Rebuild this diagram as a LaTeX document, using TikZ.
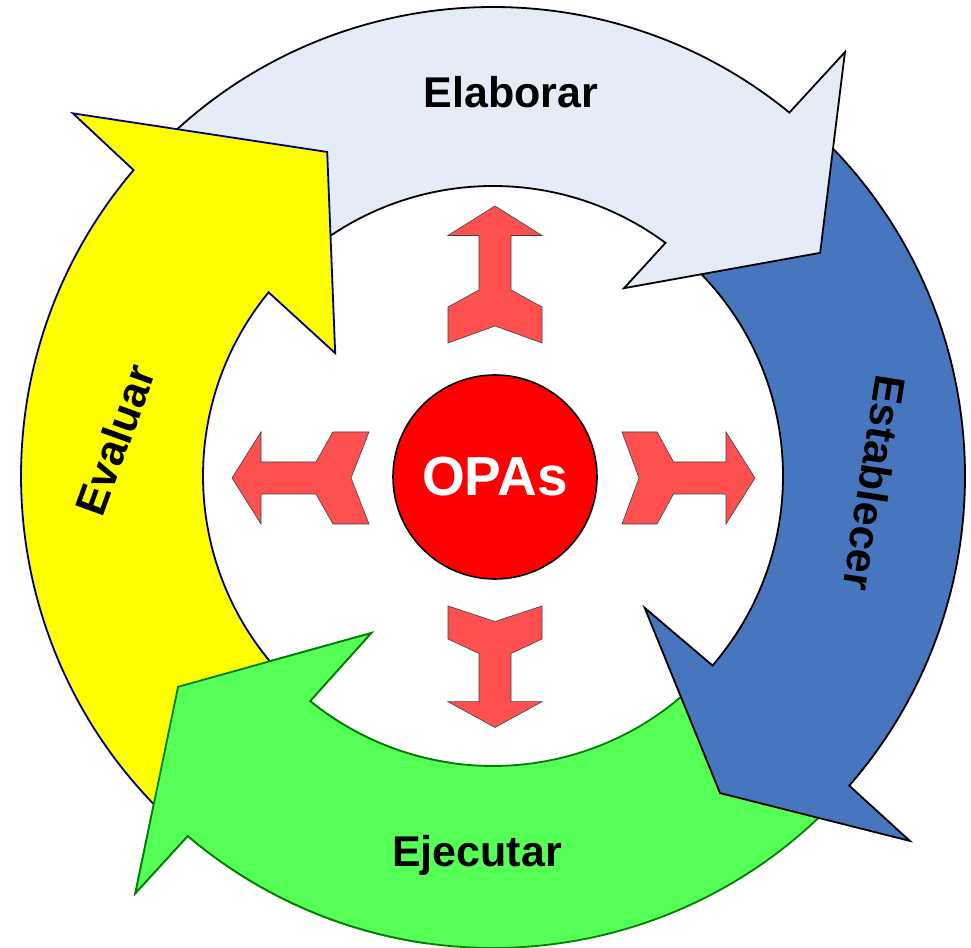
\documentclass[tikz,border=0pt]{standalone}
\usepackage{fontspec}
\setmainfont{Liberation Sans}
\definecolor{elabfill}{RGB}{230,236,247}
\definecolor{estabfill}{RGB}{71,118,191}
\definecolor{ejecfill}{RGB}{85,255,85}
\definecolor{evalfill}{RGB}{255,255,0}
\definecolor{evalline}{RGB}{0,0,128}
\definecolor{ejecline}{RGB}{0,128,0}
\definecolor{pushred}{RGB}{255,80,80}
\definecolor{pushline}{RGB}{64,64,64}
\begin{document}
\begin{tikzpicture}[x=1pt,y=1pt,
  ring/.style={line width=1.8pt, line join=miter},
  push/.style={fill=pushred, draw=pushline, line width=0.6pt, line join=miter},
  lbl/.style={font=\bfseries\fontsize{43}{43}\selectfont, text=black, inner sep=0pt}]
\useasboundingbox (0,0) rectangle (971,947);
\fill[white] (0,0) rectangle (971,947);
\begin{scope}[shift={(493,471)}]
  % Ejecutar (green)
  \draw[ring, fill=ejecfill, draw=ejecline] (316:472pt) arc[start angle=316, end angle=229.7, radius=472pt]
    -- (229.4:549.6pt) -- (213.8:379pt) -- (232.2:198.8pt) -- (230.9:290pt)
    arc[start angle=230.9, end angle=316, radius=290pt] -- cycle;
  % Establecer (blue)
  \draw[ring, fill=estabfill, draw=black] (47:472pt) arc[start angle=47, end angle=-41, radius=472pt]
    -- (-41.2:554pt) -- (-54.4:390pt) -- (-41:201pt) -- (-40.8:290pt)
    arc[start angle=-40.8, end angle=47, radius=290pt] -- cycle;
  % Elaborar (light blue)
  \draw[ring, fill=elabfill, draw=black] (137:469pt) arc[start angle=137, end angle=50.8, radius=469pt]
    -- (50.3:551pt) -- (34.3:396pt) -- (55.1:229pt) -- (53.5:290pt)
    arc[start angle=53.5, end angle=137, radius=290pt] -- cycle;
  % Evaluar (yellow)
  \draw[ring, fill=evalfill, draw=evalline] (227:472pt) arc[start angle=227, end angle=139.6, radius=472pt]
    -- (139.2:555pt) -- (117.1:364pt) -- (142.1:200pt) -- (140.7:290pt)
    arc[start angle=140.7, end angle=227, radius=290pt] -- cycle;
  % Ejecutar head again, on top of the Evaluar tail
  \fill[ejecfill] (262:472pt) arc[start angle=262, end angle=229.7, radius=472pt]
    -- (229.4:549.6pt) -- (213.8:379pt) -- (232.2:198.8pt) -- (230.9:290pt)
    arc[start angle=230.9, end angle=262, radius=290pt] -- cycle;
  \draw[ring, draw=ejecline] (262:472pt) arc[start angle=262, end angle=229.7, radius=472pt]
    -- (229.4:549.6pt) -- (213.8:379pt) -- (232.2:198.8pt) -- (230.9:290pt)
    arc[start angle=230.9, end angle=262, radius=290pt];
\end{scope}
% labels
\node[lbl, anchor=base] (elab) at (511,839) {Elaborar};
\node[lbl, anchor=base] (ejec) at (477,80) {Ejecutar};
\node[lbl, rotate=70] (eval) at (115,507) {Evaluar};
\node[lbl, rotate=-99] (estab) at (875,464) {Establecer};
% push arrows (image coordinates)
\begin{scope}[yshift=947pt, yscale=-1]
  \draw[push] (495,206) -- (542,235.5) -- (511,235.5) -- (511,290) -- (542,307) -- (542,343) -- (495,326)
    -- (448,343) -- (448,307) -- (479,290) -- (479,235.5) -- (448,235.5) -- cycle;
  \draw[push] (495,621.5) -- (542,606) -- (542,639) -- (511,653.5) -- (511,701.7) -- (542,701.7) -- (495,727.5)
    -- (448,701.7) -- (479,701.7) -- (479,653.5) -- (448,639) -- (448,606) -- cycle;
  \draw[push] (232,478) -- (261,432) -- (261,462) -- (316,462) -- (333,432) -- (369,432) -- (351,478)
    -- (369,524) -- (333,524) -- (316,494) -- (261,494) -- (261,524) -- cycle;
  \draw[push] (622,432) -- (657,432) -- (673.5,462) -- (726,462) -- (726,432) -- (755,478) -- (726,524)
    -- (726,494) -- (673.5,494) -- (657,524) -- (622,524) -- (639,478) -- cycle;
\end{scope}
% centre
\node[circle, fill=red, draw=black, line width=1.6pt, minimum size=204pt, inner sep=0pt, text=white,
  font=\bfseries\fontsize{55}{55}\selectfont] (opas) at (495,470) {OPAs};
\end{tikzpicture}
\end{document}
